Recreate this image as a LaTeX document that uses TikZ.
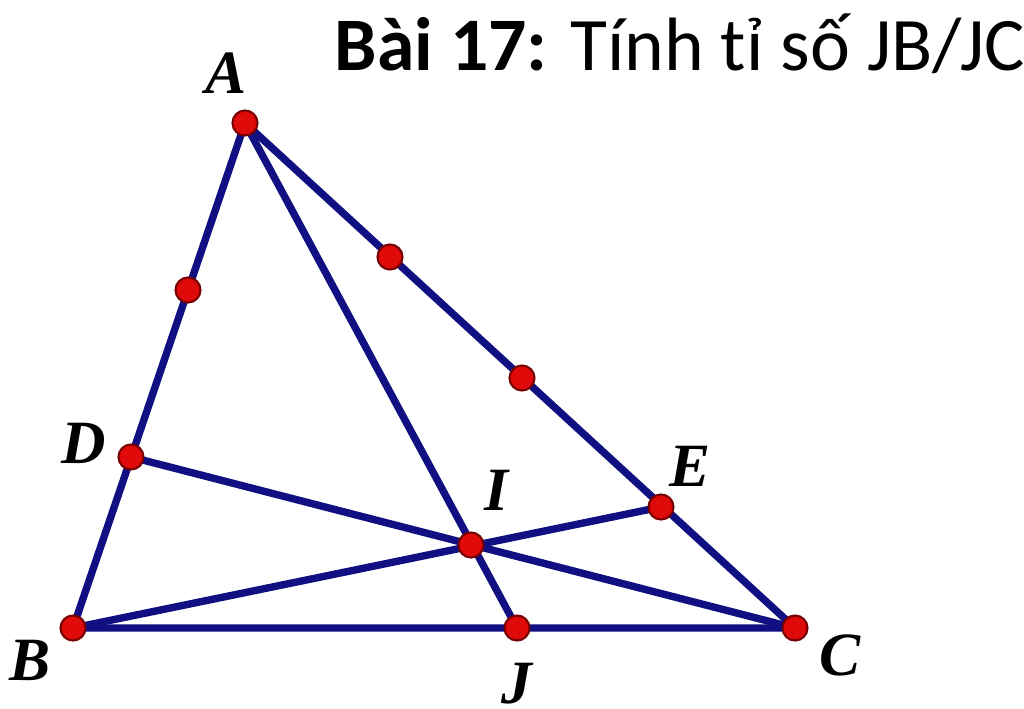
\documentclass[tikz,border=0pt]{standalone}
\usepackage{fontspec}
\setmainfont{Liberation Serif}
\newfontfamily\titlefont{Carlito}
\definecolor{edgeblue}{RGB}{16,16,130}
\definecolor{dotred}{RGB}{225,10,10}
\definecolor{dotrim}{RGB}{120,0,0}
\begin{document}
\begin{tikzpicture}[x=0.01cm,y=-0.01cm,
	edge/.style={draw=edgeblue,line width=2.1pt,line cap=round,line join=round},
	dot/.style={circle,fill=dotred,draw=dotrim,line width=0.6pt,inner sep=0pt,minimum size=0.25cm},
	lbl/.style={font=\fontsize{17.5}{17.5}\selectfont\bfseries\itshape}]
	\useasboundingbox (0,0) rectangle (1024,708);
	
	\coordinate (A) at (245,123);
	\coordinate (B) at (73,628);
	\coordinate (C) at (795,628);
	\coordinate (D) at (131,457);
	\coordinate (E) at (661,507);
	\coordinate (I) at (471,545);
	\coordinate (J) at (517,628);
	\coordinate (M) at (188,290);
	\coordinate (N) at (390,257);
	\coordinate (P) at (522,378);
	
	% 标题
	\node[anchor=base west,inner sep=0pt,font=\titlefont\fontsize{21.5}{23}\selectfont] (title) at (334,70) {\textbf{Bài 17:} Tính tỉ số JB/JC};
	
	% 三角形与线段
	\draw[edge] (A) -- (B) -- (C) -- cycle;
	\draw[edge] (A) -- (J);
	\draw[edge] (B) -- (E);
	\draw[edge] (C) -- (D);
	
	% 点
	\node[dot] (dA) at (A) {};
	\node[dot] (dB) at (B) {};
	\node[dot] (dC) at (C) {};
	\node[dot] (dD) at (D) {};
	\node[dot] (dE) at (E) {};
	\node[dot] (dI) at (I) {};
	\node[dot] (dJ) at (J) {};
	\node[dot] (dM) at (M) {};
	\node[dot] (dN) at (N) {};
	\node[dot] (dP) at (P) {};
	
	% 标注
	\node[lbl] (lA) at (226,73) {A};
	\node[lbl] (lB) at (30,660) {B};
	\node[lbl] (lC) at (840,655) {C};
	\node[lbl] (lD) at (84,443) {D};
	\node[lbl] (lE) at (690,466) {E};
	\node[lbl] (lI) at (496,490) {I};
	\node[lbl] (lJ) at (517,684) {J};
	
\end{tikzpicture}
\end{document}
